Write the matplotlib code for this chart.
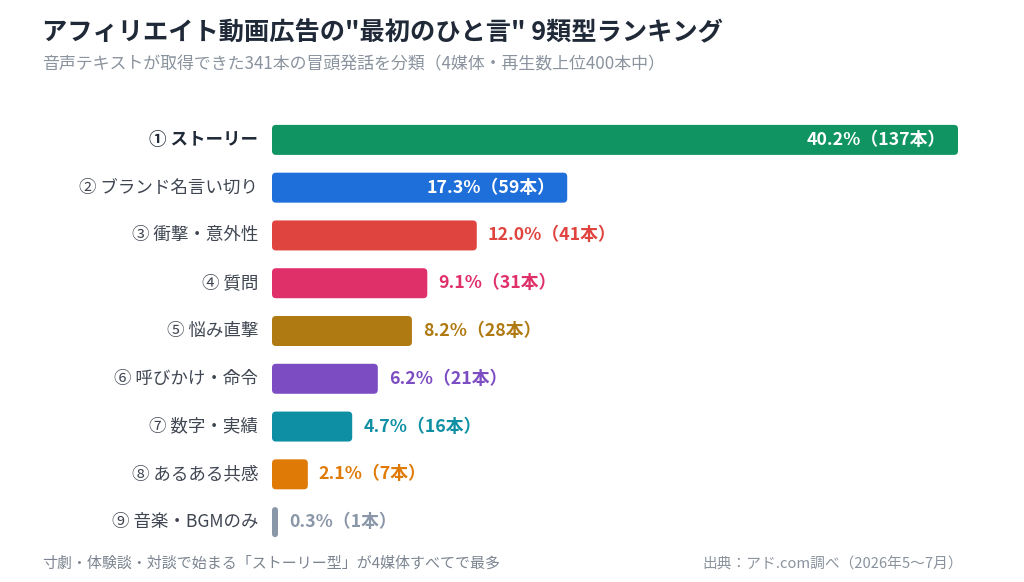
import matplotlib
matplotlib.use("Agg")
import matplotlib.pyplot as plt
from matplotlib.patches import FancyBboxPatch
from matplotlib import transforms

plt.rcParams['font.family'] = ['Noto Sans CJK JP', 'DejaVu Sans']

# data
categories = ['① ストーリー', '② ブランド名言い切り', '③ 衝撃・意外性', '④ 質問', '⑤ 悩み直撃',
              '⑥ 呼びかけ・命令', '⑦ 数字・実績', '⑧ あるある共感', '⑨ 音楽・BGMのみ']
shares = [40.2, 17.3, 12.0, 9.1, 8.2, 6.2, 4.7, 2.1, 0.3]
counts = [137, 59, 41, 31, 28, 21, 16, 7, 1]
colors = ['#0f9462', '#1f6fdb', '#e0443f', '#e0306a', '#b07a12',
          '#7c4cc2', '#0e8fa3', '#e07a06', '#8a97a8']

title = 'アフィリエイト動画広告の"最初のひと言" 9類型ランキング'
subtitle = '音声テキストが取得できた341本の冒頭発話を分類（4媒体・再生数上位400本中）'
note = '寸劇・体験談・対談で始まる「ストーリー型」が4媒体すべてで最多'
source = '出典：アド.com調べ（2026年5〜7月）'

W, H = 1024, 582
fig = plt.figure(figsize=(W / 100, H / 100), dpi=100)
fig.patch.set_facecolor('white')

# axes placed in pixels: bars start at x=272, rows from y=116 to 546
ax_l, ax_r, ax_t, ax_b = 272, 1000, 116, 546
ax = fig.add_axes([ax_l / W, 1 - ax_b / H, (ax_r - ax_l) / W, (ax_b - ax_t) / H])
xmax = 40.2 * (ax_r - ax_l) / (958 - ax_l)
ax.set_xlim(0, xmax)
ax.set_ylim(len(categories) - 0.5, -0.5)
ax.axis('off')

px_x = (ax_r - ax_l) / xmax          # pixels per x unit
px_y = (ax_b - ax_t) / len(categories)  # pixels per y unit
bar_h = 30 / px_y
radius_px = 4

for i, (v, n, c, lab) in enumerate(zip(shares, counts, colors, categories)):
    w = max(v, 6 / px_x)
    r = min(radius_px, w * px_x / 2)
    patch = FancyBboxPatch((0, i - bar_h / 2), w, bar_h,
                           boxstyle=f"round,pad=0,rounding_size={r / px_x}",
                           mutation_aspect=px_x / px_y,
                           facecolor=c, edgecolor='none')
    ax.add_patch(patch)

    # category label
    tl = transforms.offset_copy(ax.transData, fig=fig, x=-14, y=0, units='dots')
    ax.text(0, i, lab, transform=tl, ha='right', va='center',
            fontsize=12.6, color='#1f2937' if i == 0 else '#3f4652',
            fontweight='bold' if i == 0 else 'normal')

    val = f'{v:.1f}%（{n}本）'
    if v > 15:
        tv = transforms.offset_copy(ax.transData, fig=fig, x=-12, y=0, units='dots')
        ax.text(w, i, val, transform=tv, ha='right', va='center',
                fontsize=12.8, color='white', fontweight='bold')
    else:
        tv = transforms.offset_copy(ax.transData, fig=fig, x=11, y=0, units='dots')
        ax.text(w, i, val, transform=tv, ha='left', va='center',
                fontsize=12.8, color=c, fontweight='bold')

fig.text(42 / W, 1 - 33 / H, title, ha='left', va='center',
         fontsize=18.2, fontweight='bold', color='#1f2937')
fig.text(42 / W, 1 - 64 / H, subtitle, ha='left', va='center',
         fontsize=12.2, color='#8a939e')
fig.text(42 / W, 1 - 564 / H, note, ha='left', va='center',
         fontsize=10.8, color='#7b8490')
fig.text(963 / W, 1 - 564 / H, source, ha='right', va='center',
         fontsize=10.6, color='#8a939e')

fig.savefig('out.png', dpi=100, facecolor='white')
